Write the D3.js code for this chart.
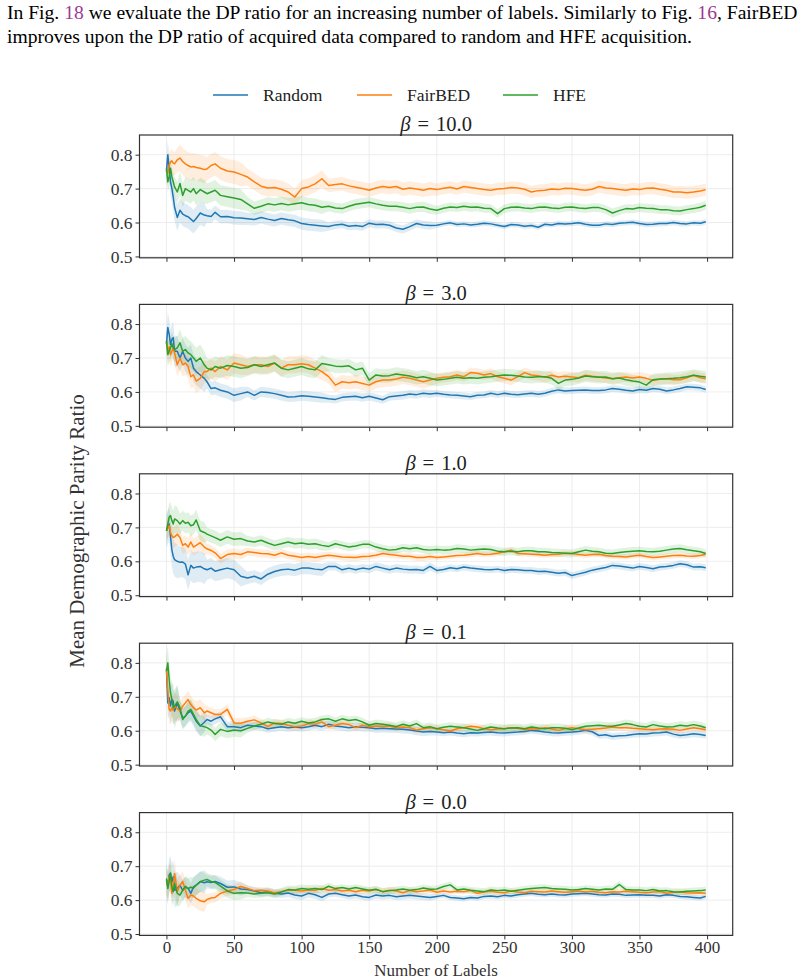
<!DOCTYPE html>
<html>
<head>
<meta charset="utf-8">
<script src="https://cdn.jsdelivr.net/npm/d3@7"></script>
<style>
  html, body { margin: 0; padding: 0; background: #fff; }
  svg { display: block; }
</style>
</head>
<body>
<svg id="chart" width="804" height="980"></svg>
<script>
// ---------------- DATA ----------------
const X = [0,1,2,3,4,5,6,8,10,12,14,16,18,20,22,25,28,30,33,36,40,45,
  50,55,60,65,70,75,80,85,90,95,
  100,105,110,115,120,125,130,135,140,145,150,155,160,165,170,175,180,185,190,195,
  200,205,210,215,220,225,230,235,240,245,250,255,260,265,270,275,280,285,290,295,
  300,305,310,315,320,325,330,335,340,345,350,355,360,365,370,375,380,385,390,395,
  399];

const seriesNames = ["Random", "FairBED", "HFE"];
const betaLabels = ["10.0", "3.0", "1.0", "0.1", "0.0"];
const xTicks = [0,50,100,150,200,250,300,350,400];
const yTicks = [0.5,0.6,0.7,0.8];

// beta = 10.0
const random_b10 = [0.75,0.80,0.76,0.72,0.70,0.675,0.645,0.615,0.636,0.625,0.62,0.617,0.61,0.603,0.612,0.628,0.622,0.62,0.618,0.63,0.617,0.618,
  0.614,0.613,0.611,0.609,0.615,0.61,0.606,0.612,0.608,0.605,
  0.597,0.594,0.592,0.59,0.588,0.593,0.595,0.589,0.591,0.588,0.598,0.594,0.595,0.592,0.584,0.58,0.588,0.597,0.593,0.591,
  0.592,0.596,0.599,0.594,0.596,0.593,0.595,0.598,0.596,0.592,0.588,0.594,0.593,0.589,0.591,0.586,0.595,0.593,0.597,0.596,
  0.597,0.599,0.595,0.592,0.592,0.596,0.594,0.598,0.599,0.601,0.597,0.594,0.595,0.597,0.597,0.6,0.597,0.596,0.599,0.598,
  0.602];
const fairbed_b10 = [0.75,0.745,0.77,0.778,0.782,0.775,0.773,0.785,0.79,0.78,0.773,0.768,0.764,0.765,0.762,0.76,0.756,0.758,0.768,0.773,0.76,0.752,
  0.749,0.742,0.734,0.72,0.707,0.702,0.703,0.698,0.69,0.675,
  0.70,0.705,0.714,0.729,0.709,0.712,0.714,0.708,0.704,0.70,0.695,0.702,0.706,0.703,0.706,0.698,0.702,0.699,0.695,0.70,
  0.697,0.701,0.704,0.699,0.706,0.703,0.70,0.697,0.695,0.699,0.70,0.703,0.702,0.698,0.69,0.694,0.695,0.699,0.697,0.701,
  0.70,0.697,0.695,0.698,0.706,0.702,0.70,0.697,0.695,0.699,0.697,0.701,0.702,0.698,0.695,0.69,0.69,0.688,0.69,0.693,
  0.697];
const hfe_b10 = [0.76,0.72,0.735,0.76,0.735,0.72,0.705,0.69,0.715,0.68,0.70,0.695,0.69,0.70,0.685,0.697,0.69,0.685,0.69,0.695,0.68,0.676,
  0.672,0.668,0.655,0.642,0.648,0.655,0.652,0.656,0.652,0.655,
  0.658,0.653,0.651,0.645,0.648,0.643,0.641,0.648,0.654,0.657,0.66,0.655,0.651,0.648,0.648,0.645,0.641,0.645,0.646,0.64,
  0.636,0.642,0.646,0.644,0.648,0.645,0.646,0.642,0.641,0.626,0.641,0.645,0.646,0.643,0.641,0.645,0.646,0.643,0.641,0.645,
  0.646,0.643,0.641,0.644,0.644,0.638,0.628,0.635,0.641,0.64,0.644,0.642,0.641,0.638,0.638,0.635,0.634,0.638,0.641,0.645,
  0.651];

// beta = 3.0
const random_b3 = [0.74,0.79,0.77,0.74,0.755,0.76,0.72,0.72,0.70,0.72,0.70,0.69,0.70,0.67,0.66,0.65,0.64,0.63,0.61,0.612,0.605,0.60,
  0.59,0.595,0.60,0.59,0.60,0.598,0.595,0.59,0.585,0.586,
  0.589,0.587,0.585,0.583,0.58,0.578,0.584,0.586,0.587,0.583,0.587,0.582,0.577,0.586,0.588,0.59,0.594,0.592,0.596,0.594,
  0.596,0.593,0.591,0.59,0.588,0.586,0.59,0.591,0.596,0.592,0.596,0.593,0.592,0.594,0.596,0.593,0.596,0.602,0.606,0.603,
  0.604,0.605,0.606,0.604,0.604,0.606,0.61,0.608,0.605,0.603,0.607,0.605,0.61,0.608,0.603,0.606,0.61,0.615,0.614,0.612,
  0.607];
const fairbed_b3 = [0.75,0.72,0.733,0.71,0.72,0.73,0.715,0.68,0.70,0.68,0.685,0.675,0.645,0.65,0.632,0.64,0.66,0.66,0.67,0.66,0.675,0.665,
  0.685,0.68,0.675,0.68,0.68,0.675,0.685,0.67,0.68,0.68,
  0.683,0.68,0.67,0.66,0.645,0.62,0.63,0.627,0.63,0.625,0.62,0.63,0.635,0.635,0.638,0.643,0.64,0.635,0.63,0.635,
  0.64,0.643,0.645,0.65,0.645,0.657,0.655,0.65,0.654,0.645,0.64,0.635,0.645,0.657,0.65,0.648,0.643,0.649,0.644,0.646,
  0.644,0.642,0.649,0.646,0.644,0.641,0.639,0.642,0.644,0.641,0.644,0.64,0.634,0.637,0.639,0.636,0.636,0.642,0.649,0.642,
  0.639];
const hfe_b3 = [0.75,0.71,0.72,0.73,0.743,0.73,0.725,0.73,0.745,0.72,0.725,0.715,0.71,0.70,0.69,0.70,0.68,0.67,0.665,0.675,0.67,0.678,
  0.675,0.67,0.672,0.68,0.675,0.68,0.685,0.67,0.665,0.67,
  0.675,0.668,0.665,0.684,0.68,0.676,0.675,0.677,0.665,0.67,0.635,0.65,0.647,0.648,0.653,0.65,0.647,0.642,0.645,0.64,
  0.635,0.637,0.64,0.643,0.64,0.642,0.64,0.643,0.645,0.648,0.65,0.649,0.647,0.644,0.643,0.645,0.645,0.64,0.625,0.635,
  0.637,0.641,0.647,0.645,0.643,0.644,0.639,0.641,0.636,0.632,0.629,0.62,0.636,0.638,0.639,0.64,0.642,0.645,0.649,0.646,
  0.644];

// beta = 1.0
const random_b1 = [0.69,0.70,0.71,0.672,0.634,0.615,0.605,0.60,0.597,0.598,0.592,0.56,0.588,0.58,0.583,0.585,0.578,0.575,0.58,0.571,0.575,0.58,
  0.575,0.556,0.551,0.556,0.548,0.562,0.57,0.575,0.577,0.574,
  0.58,0.58,0.577,0.575,0.585,0.585,0.575,0.58,0.575,0.58,0.577,0.585,0.58,0.575,0.58,0.577,0.575,0.576,0.573,0.585,
  0.573,0.576,0.581,0.578,0.583,0.58,0.578,0.576,0.575,0.577,0.573,0.576,0.575,0.573,0.573,0.57,0.571,0.568,0.565,0.567,
  0.558,0.563,0.568,0.574,0.578,0.582,0.588,0.586,0.583,0.58,0.585,0.582,0.578,0.583,0.585,0.588,0.593,0.59,0.583,0.584,
  0.581];
const fairbed_b1 = [0.69,0.70,0.705,0.685,0.675,0.67,0.672,0.68,0.67,0.647,0.652,0.642,0.657,0.642,0.647,0.655,0.642,0.637,0.632,0.625,0.608,0.62,
  0.623,0.62,0.628,0.626,0.623,0.622,0.618,0.625,0.618,0.615,
  0.611,0.614,0.611,0.615,0.618,0.616,0.613,0.612,0.611,0.614,0.615,0.618,0.623,0.62,0.618,0.615,0.615,0.611,0.611,0.614,
  0.611,0.613,0.615,0.617,0.618,0.62,0.623,0.62,0.621,0.624,0.628,0.633,0.623,0.622,0.621,0.62,0.618,0.62,0.621,0.624,
  0.623,0.62,0.618,0.62,0.621,0.617,0.615,0.614,0.613,0.616,0.618,0.614,0.611,0.613,0.615,0.617,0.618,0.616,0.615,0.617,
  0.621];
const hfe_b1 = [0.69,0.71,0.73,0.735,0.72,0.71,0.725,0.72,0.71,0.72,0.712,0.715,0.705,0.708,0.722,0.69,0.685,0.68,0.675,0.67,0.662,0.672,
  0.665,0.667,0.66,0.657,0.662,0.654,0.647,0.652,0.657,0.652,
  0.654,0.65,0.652,0.647,0.644,0.652,0.647,0.642,0.645,0.65,0.65,0.642,0.637,0.633,0.635,0.64,0.637,0.64,0.635,0.633,
  0.635,0.633,0.634,0.638,0.636,0.633,0.635,0.636,0.635,0.63,0.628,0.63,0.628,0.631,0.631,0.628,0.628,0.626,0.625,0.624,
  0.623,0.628,0.633,0.63,0.628,0.624,0.623,0.626,0.628,0.63,0.631,0.629,0.628,0.63,0.633,0.636,0.638,0.634,0.631,0.628,
  0.623];

// beta = 0.1
const random_b01 = [0.78,0.682,0.697,0.673,0.692,0.687,0.658,0.682,0.658,0.638,0.643,0.653,0.658,0.643,0.628,0.614,0.625,0.633,0.628,0.635,0.641,0.612,
  0.612,0.609,0.616,0.614,0.612,0.606,0.609,0.612,0.609,0.611,
  0.609,0.612,0.616,0.612,0.619,0.614,0.612,0.609,0.612,0.61,0.609,0.606,0.607,0.606,0.605,0.604,0.602,0.599,0.596,0.598,
  0.596,0.594,0.596,0.593,0.591,0.594,0.593,0.595,0.596,0.594,0.593,0.595,0.596,0.598,0.601,0.599,0.596,0.594,0.593,0.595,
  0.596,0.598,0.601,0.597,0.586,0.588,0.583,0.585,0.586,0.589,0.591,0.59,0.593,0.594,0.596,0.59,0.586,0.588,0.591,0.589,
  0.586];
const fairbed_b01 = [0.785,0.721,0.663,0.658,0.668,0.66,0.672,0.665,0.658,0.672,0.682,0.692,0.677,0.668,0.661,0.668,0.653,0.658,0.653,0.648,0.648,0.663,
  0.623,0.622,0.628,0.632,0.623,0.612,0.623,0.621,0.616,0.612,
  0.614,0.621,0.619,0.626,0.612,0.616,0.621,0.618,0.609,0.616,0.612,0.614,0.613,0.614,0.609,0.611,0.609,0.602,0.606,0.609,
  0.606,0.603,0.599,0.606,0.609,0.613,0.611,0.606,0.603,0.605,0.606,0.609,0.607,0.603,0.606,0.604,0.609,0.605,0.601,0.606,
  0.609,0.606,0.603,0.604,0.606,0.608,0.611,0.609,0.609,0.607,0.606,0.604,0.603,0.605,0.606,0.604,0.601,0.605,0.609,0.606,
  0.603];
const hfe_b01 = [0.776,0.80,0.751,0.712,0.692,0.668,0.672,0.685,0.668,0.633,0.643,0.658,0.663,0.648,0.633,0.615,0.612,0.609,0.602,0.589,0.604,0.598,
  0.602,0.60,0.607,0.614,0.619,0.626,0.621,0.619,0.626,0.622,
  0.628,0.623,0.626,0.633,0.635,0.628,0.635,0.63,0.633,0.626,0.616,0.621,0.619,0.616,0.612,0.619,0.614,0.621,0.609,0.612,
  0.606,0.61,0.613,0.611,0.609,0.605,0.601,0.606,0.611,0.608,0.606,0.608,0.609,0.606,0.611,0.608,0.606,0.609,0.609,0.607,
  0.603,0.608,0.613,0.615,0.616,0.614,0.613,0.617,0.621,0.618,0.613,0.611,0.618,0.614,0.611,0.612,0.616,0.614,0.618,0.614,
  0.609];

// beta = 0.0
const random_b0 = [0.659,0.639,0.674,0.679,0.654,0.669,0.629,0.634,0.644,0.629,0.637,0.635,0.62,0.639,0.644,0.655,0.651,0.654,0.652,0.655,0.649,0.638,
  0.639,0.633,0.631,0.627,0.622,0.625,0.62,0.618,0.621,0.615,
  0.612,0.62,0.616,0.608,0.618,0.62,0.616,0.612,0.615,0.61,0.608,0.615,0.612,0.614,0.61,0.612,0.614,0.612,0.61,0.608,
  0.611,0.614,0.608,0.606,0.604,0.608,0.606,0.611,0.612,0.61,0.614,0.612,0.616,0.618,0.62,0.617,0.616,0.618,0.616,0.615,
  0.618,0.619,0.62,0.618,0.616,0.615,0.618,0.617,0.614,0.615,0.616,0.614,0.614,0.612,0.616,0.614,0.611,0.61,0.608,0.606,
  0.611];
const fairbed_b0 = [0.654,0.644,0.669,0.659,0.62,0.644,0.678,0.625,0.644,0.655,0.629,0.605,0.615,0.612,0.605,0.598,0.595,0.602,0.606,0.608,0.62,0.627,
  0.631,0.64,0.634,0.628,0.629,0.627,0.622,0.625,0.629,0.629,
  0.627,0.63,0.629,0.634,0.629,0.631,0.627,0.629,0.625,0.629,0.627,0.631,0.625,0.629,0.627,0.622,0.628,0.625,0.627,0.63,
  0.623,0.627,0.624,0.626,0.625,0.628,0.62,0.624,0.626,0.623,0.622,0.627,0.624,0.622,0.626,0.625,0.624,0.627,0.625,0.623,
  0.625,0.627,0.624,0.626,0.623,0.622,0.625,0.624,0.626,0.625,0.623,0.622,0.624,0.625,0.62,0.623,0.624,0.622,0.621,0.622,
  0.62];
const hfe_b0 = [0.664,0.634,0.654,0.68,0.639,0.625,0.649,0.62,0.615,0.629,0.641,0.634,0.638,0.636,0.644,0.654,0.659,0.661,0.655,0.652,0.641,0.627,
  0.62,0.622,0.621,0.618,0.62,0.622,0.618,0.624,0.631,0.63,
  0.634,0.632,0.634,0.631,0.641,0.634,0.637,0.633,0.637,0.633,0.629,0.632,0.625,0.628,0.63,0.633,0.629,0.631,0.636,0.632,
  0.633,0.64,0.645,0.63,0.633,0.629,0.627,0.625,0.63,0.628,0.63,0.626,0.629,0.632,0.634,0.636,0.637,0.634,0.633,0.632,
  0.63,0.631,0.634,0.632,0.63,0.633,0.632,0.646,0.631,0.63,0.63,0.628,0.631,0.627,0.628,0.625,0.624,0.626,0.627,0.628,
  0.63];

// uncertainty band half-widths, piecewise by label range starting at these x values
const BAND_X = [0, 10, 30, 60, 120, 200];
const band_random = [
  [0.04,0.035,0.02,0.018,0.012,0.008],
  [0.045,0.04,0.02,0.015,0.012,0.01],
  [0.05,0.045,0.03,0.018,0.012,0.01],
  [0.05,0.03,0.015,0.012,0.012,0.01],
  [0.05,0.03,0.02,0.012,0.01,0.008]];
const band_fairbed = [
  [0.035,0.04,0.035,0.025,0.02,0.018],
  [0.035,0.035,0.03,0.025,0.02,0.015],
  [0.03,0.025,0.015,0.012,0.01,0.008],
  [0.04,0.025,0.015,0.012,0.01,0.01],
  [0.04,0.03,0.015,0.01,0.01,0.008]];
const band_hfe = [
  [0.03,0.035,0.03,0.02,0.015,0.013],
  [0.035,0.04,0.03,0.025,0.02,0.018],
  [0.04,0.03,0.02,0.015,0.012,0.012],
  [0.05,0.03,0.02,0.012,0.012,0.012],
  [0.04,0.03,0.02,0.012,0.01,0.01]];

const panelValues = [
  [random_b10, fairbed_b10, hfe_b10],
  [random_b3, fairbed_b3, hfe_b3],
  [random_b1, fairbed_b1, hfe_b1],
  [random_b01, fairbed_b01, hfe_b01],
  [random_b0, fairbed_b0, hfe_b0]];
const panelBands = [0,1,2,3,4].map(i => [band_random[i], band_fairbed[i], band_hfe[i]]);

// ---------------- LAYOUT / STYLE ----------------
const colors = ["#1f77b4", "#ff7f0e", "#2ca02c"];
const FONT = "'Liberation Serif', 'DejaVu Serif', serif";
const plotLeft = 139.5, plotRight = 732.7;
const firstTop = 135, panelStep = 169.4, panelH = 122.8;

const svg = d3.select("#chart");
svg.append("rect").attr("width", 804).attr("height", 980).attr("fill", "#fff");

// header paragraph text
const header = svg.append("text").attr("font-family", FONT).attr("font-size", 19.6).attr("fill", "#000");
const l1 = header.append("tspan").attr("x", 7).attr("y", 19);
l1.append("tspan").text("In Fig. ");
l1.append("tspan").attr("fill", "#9b3a92").text("18");
l1.append("tspan").text(" we evaluate the DP ratio for an increasing number of labels. Similarly to Fig. ");
l1.append("tspan").attr("fill", "#9b3a92").text("16");
l1.append("tspan").text(", FairBED");
header.append("tspan").attr("x", 7).attr("y", 43)
  .text("improves upon the DP ratio of acquired data compared to random and HFE acquisition.");

// legend
const legendItems = [{x: 213}, {x: 357}, {x: 503}];
seriesNames.forEach((name, i) => {
  const g = svg.append("g");
  g.append("line").attr("x1", legendItems[i].x).attr("x2", legendItems[i].x + 35)
    .attr("y1", 95).attr("y2", 95).attr("stroke", colors[i]).attr("stroke-width", 1.6);
  g.append("text").attr("x", legendItems[i].x + 50).attr("y", 100.5)
    .attr("font-family", FONT).attr("font-size", 17.5).attr("fill", "#222").text(name);
});

const x = d3.scaleLinear().domain([-19.95, 418.95]).range([plotLeft, plotRight]);

function bandHalf(bands, xv) {
  let k = 0;
  for (let j = 0; j < BAND_X.length; j++) if (xv >= BAND_X[j]) k = j;
  return bands[k];
}

panelValues.forEach((vals, p) => {
  const top = firstTop + p * panelStep;
  const y = d3.scaleLinear().domain([0.496, 0.858]).range([top + panelH, top]);
  const g = svg.append("g");

  const clipId = "clip" + p;
  g.append("clipPath").attr("id", clipId).append("rect")
    .attr("x", plotLeft).attr("y", top).attr("width", plotRight - plotLeft).attr("height", panelH);

  // grid
  g.append("g").selectAll("line").data(xTicks).join("line")
    .attr("x1", d => x(d)).attr("x2", d => x(d)).attr("y1", top).attr("y2", top + panelH)
    .attr("stroke", "#ebebeb").attr("stroke-width", 0.9);
  g.append("g").selectAll("line").data(yTicks).join("line")
    .attr("x1", plotLeft).attr("x2", plotRight).attr("y1", d => y(d)).attr("y2", d => y(d))
    .attr("stroke", "#ebebeb").attr("stroke-width", 0.9);

  const plot = g.append("g").attr("clip-path", `url(#${clipId})`);
  // bands
  vals.forEach((series, s) => {
    const bands = panelBands[p][s];
    const pts = X.map((xv, i) => ({x: xv, v: series[i], h: bandHalf(bands, xv)}));
    const area = d3.area().x(d => x(d.x)).y0(d => y(d.v - d.h)).y1(d => y(d.v + d.h));
    plot.append("path").datum(pts).attr("d", area)
      .attr("fill", colors[s]).attr("fill-opacity", 0.14).attr("stroke", "none");
  });
  // lines
  vals.forEach((series, s) => {
    const pts = X.map((xv, i) => ({x: xv, v: series[i]}));
    const line = d3.line().x(d => x(d.x)).y(d => y(d.v));
    plot.append("path").datum(pts).attr("d", line)
      .attr("fill", "none").attr("stroke", colors[s]).attr("stroke-width", 1.5)
      .attr("stroke-linejoin", "round");
  });

  // axes
  const xAxis = d3.axisBottom(x).tickValues(xTicks).tickSize(4).tickPadding(2)
    .tickFormat(p === 4 ? d3.format("d") : () => "");
  const gx = g.append("g").attr("transform", `translate(0,${top + panelH})`).call(xAxis);
  gx.select(".domain").remove();
  gx.selectAll("line").attr("stroke", "#333").attr("stroke-width", 1);
  gx.selectAll("text").attr("font-family", FONT).attr("font-size", 17).attr("fill", "#333");

  const yAxis = d3.axisLeft(y).tickValues(yTicks).tickSize(4).tickPadding(3)
    .tickFormat(d3.format(".1f"));
  const gy = g.append("g").attr("transform", `translate(${plotLeft},0)`).call(yAxis);
  gy.select(".domain").remove();
  gy.selectAll("line").attr("stroke", "#333").attr("stroke-width", 1);
  gy.selectAll("text").attr("font-family", FONT).attr("font-size", 17.5).attr("fill", "#333");

  // frame
  g.append("rect").attr("x", plotLeft).attr("y", top)
    .attr("width", plotRight - plotLeft).attr("height", panelH)
    .attr("fill", "none").attr("stroke", "#333").attr("stroke-width", 1.2);

  // title
  const t = g.append("text").attr("x", (plotLeft + plotRight) / 2).attr("y", top - 4)
    .attr("text-anchor", "middle").attr("font-family", FONT).attr("font-size", 20.5).attr("fill", "#222");
  t.append("tspan").attr("font-style", "italic").text("β");
  t.append("tspan").attr("dx", 7).text("=");
  t.append("tspan").attr("dx", 7).text(betaLabels[p]);
});

// axis labels
svg.append("text").attr("x", (plotLeft + plotRight) / 2).attr("y", 976)
  .attr("text-anchor", "middle").attr("font-family", FONT).attr("font-size", 17).attr("fill", "#333")
  .text("Number of Labels");
svg.append("text").attr("transform", "translate(84,531) rotate(-90)")
  .attr("text-anchor", "middle").attr("font-family", FONT).attr("font-size", 21).attr("fill", "#333")
  .text("Mean Demographic Parity Ratio");
</script>
</body>
</html>
